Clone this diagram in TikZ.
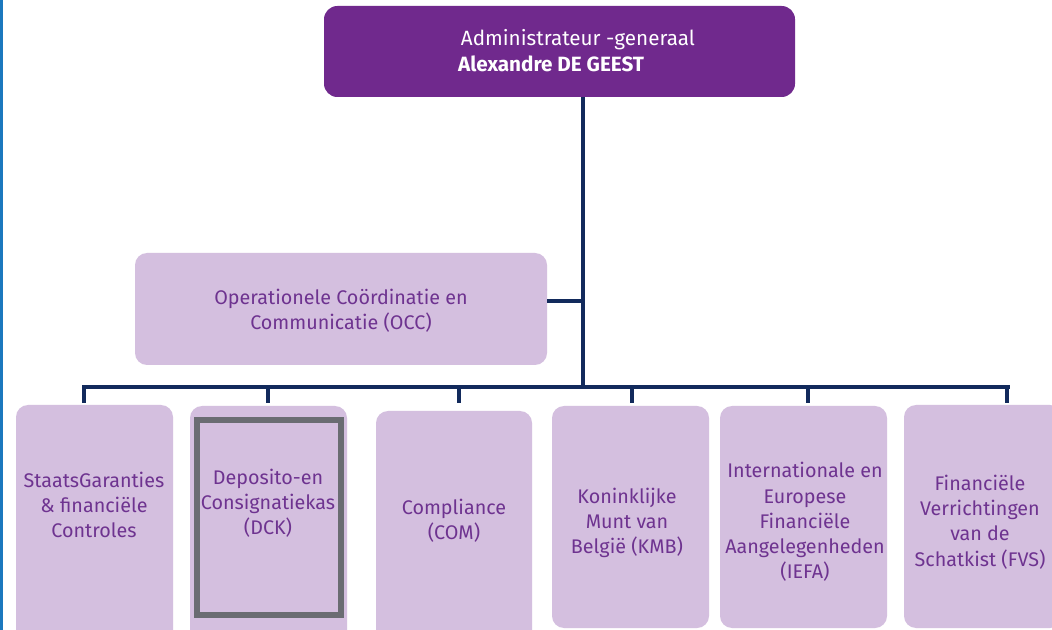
\documentclass[tikz,border=0pt]{standalone}
\usepackage{fontspec}
\setmainfont{Fira Sans}
\definecolor{topfill}{HTML}{70298D}
\definecolor{lightfill}{HTML}{D4BFDF}
\definecolor{txtpurple}{HTML}{6E3390}
\definecolor{navy}{HTML}{122A5C}
\definecolor{grayborder}{HTML}{6A6C72}
\definecolor{leftblue}{HTML}{1B78BE}
\tikzset{
  toptext/.style={text=white, align=center, font=\fontsize{15.5}{19.5}\selectfont},
  unittext/.style={text=txtpurple, align=center, font=\fontsize{14.8}{18.9}\selectfont},
  unitfill/.style={fill=lightfill, rounded corners=9pt},
  conn/.style={draw=navy, line width=2.4pt},
  hilite/.style={draw=grayborder, line width=4pt}
}
\begin{document}
\begin{tikzpicture}[x=0.75pt, y=-0.75pt]
\useasboundingbox (0,0) rectangle (1052,630);
\fill[white] (0,0) rectangle (1052,630);
\begin{scope}
\clip (0,0) rectangle (1052,630);
% boxes
\fill[topfill, rounded corners=10pt] (324,6) rectangle (795,97);
\node[toptext] (top) at (578,51) {Administrateur -generaal\\\textbf{Alexandre DE GEEST}\hspace*{2.6em}};
\coordinate (topS) at (583,97);

\fill[unitfill] (135,253) rectangle (547,365);
\node[unittext] (occ) at (341,311) {Operationele Coördinatie en\\Communicatie (OCC)};
\coordinate (occE) at (547,301);

\fill[unitfill] (16,405) rectangle (173,645);
\node[unittext] (sg) at (94,505) {StaatsGaranties\\\& financiële\\Controles};

\fill[unitfill] (190,406) rectangle (347,645);
\draw[hilite] (197,420) rectangle (341,615);
\node[unittext] (dck) at (268,503) {Deposito-en\\Consignatiekas\\(DCK)};

\fill[unitfill] (376,411) rectangle (532,645);
\node[unittext] (com) at (454,521) {Compliance\\(COM)};

\fill[unitfill] (552,406) rectangle (709,628);
\node[unittext] (kmb) at (627,523) {Koninklijke\\Munt van\\België (KMB)};

\fill[unitfill] (720,406) rectangle (887,628);
\node[unittext] (iefa) at (805,522) {Internationale en\\Europese\\Financiële\\Aangelegenheden\\(IEFA)};

\fill[unitfill] (904,405) rectangle (1062,628);
\node[unittext] (fvs) at (980,522) {Financiële\\Verrichtingen\\van de\\Schatkist (FVS)};

% connectors
\coordinate (busJ) at (583,387);
\coordinate (busL) at (84,387);
\coordinate (busR) at (1008,387);
\draw[conn] (topS) -- (busJ);
\draw[conn] (occE) -- (583,301);
\draw[conn, line cap=rect] (busL) -- (busR);
\foreach \x/\n in {84/sg,268/dck,459/com,632/kmb,808/iefa,1007/fvs}{
  \coordinate (d\n) at (\x,403);
  \draw[conn] (\x,387) -- (d\n);
}
\end{scope}
\fill[leftblue] (0,0) rectangle (3,630);
\end{tikzpicture}
\end{document}
